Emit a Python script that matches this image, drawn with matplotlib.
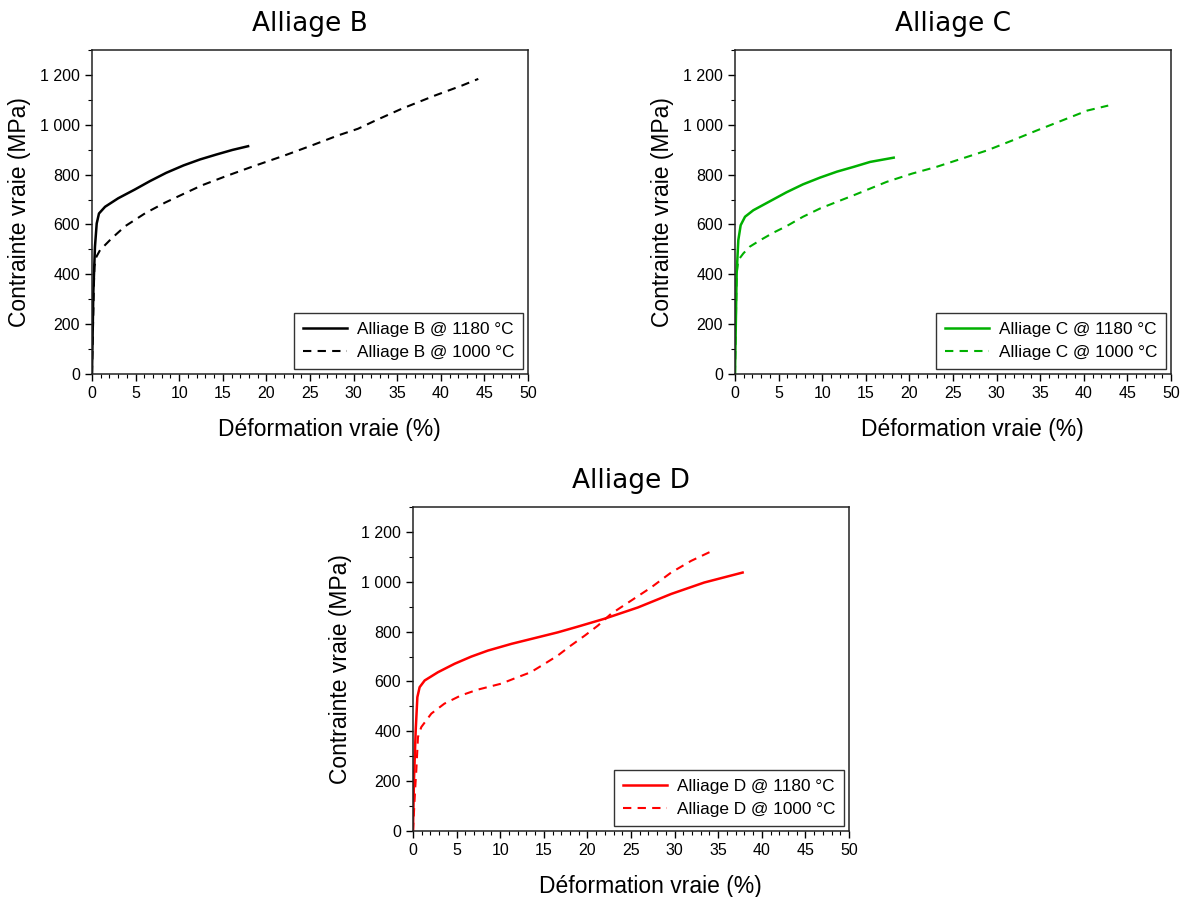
import numpy as np
import matplotlib as mpl
mpl.use("Agg")
import matplotlib.pyplot as plt
from matplotlib.ticker import MultipleLocator, FuncFormatter

# true strain (%) / true stress (MPa)
b_hot_x = [0, 0.15, 0.34, 0.54, 0.8, 1.5, 3.0, 4.9, 6.65, 8.5, 10.5, 12.4, 14.3, 16.1, 17.9]
b_hot_y = [0, 324, 511, 604, 644, 671, 705, 740, 774, 807, 837, 861, 881, 899, 914]
b_cold_x = [0, 0.15, 0.27, 0.5, 0.92, 2.25, 3.8, 6.1, 8.4, 10.7, 12.6, 15.3, 18.3, 22.1,
            25.2, 28.2, 30.5, 32.5, 35.5, 39.3, 42.4, 44.3]
b_cold_y = [0, 250, 431, 470, 497, 544, 593, 645, 688, 726, 757, 793, 831, 877,
            917, 957, 984, 1017, 1064, 1117, 1157, 1184]

c_hot_x = [0, 0.19, 0.38, 0.65, 1.15, 2.1, 4.0, 5.9, 7.8, 9.75, 11.7, 13.6, 15.5, 18.2]
c_hot_y = [0, 404, 537, 597, 631, 657, 693, 729, 761, 788, 812, 831, 851, 868]
c_cold_x = [0, 0.19, 0.38, 0.96, 1.7, 2.9, 4.4, 5.9, 7.8, 9.75, 11.7, 13.6, 15.5, 17.4,
            20.3, 23.1, 26.0, 28.9, 31.8, 34.6, 37.5, 40.4, 42.8]
c_cold_y = [0, 404, 457, 484, 511, 537, 567, 593, 631, 664, 691, 717, 744, 771,
            804, 831, 864, 897, 937, 977, 1017, 1057, 1077]

d_hot_x = [0, 0.11, 0.31, 0.5, 0.76, 1.34, 2.86, 4.77, 6.7, 8.6, 11.3, 14.3, 16.6, 18.9,
           21.9, 25.8, 29.6, 33.4, 37.8]
d_hot_y = [0, 204, 404, 537, 577, 604, 637, 671, 700, 724, 751, 777, 797, 820,
           851, 897, 951, 997, 1037]
d_cold_x = [0, 0.2, 0.3, 0.38, 0.57, 0.95, 2.1, 3.6, 5.5, 7.4, 10.1, 12.0, 13.5, 15.1,
            16.6, 18.1, 19.7, 21.2, 22.7, 25.0, 27.3, 29.6, 31.9, 34.5]
d_cold_y = [0, 137, 200, 244, 377, 417, 471, 511, 544, 567, 591, 617, 637, 671,
            704, 744, 784, 824, 871, 924, 977, 1037, 1084, 1127]

panels = [
    ("Alliage B", "black", b_hot_x, b_hot_y, b_cold_x, b_cold_y),
    ("Alliage C", "#00b000", c_hot_x, c_hot_y, c_cold_x, c_cold_y),
    ("Alliage D", "#ff0000", d_hot_x, d_hot_y, d_cold_x, d_cold_y),
]

W, H = 1185, 897
boxes = [(92, 50), (735, 50), (413, 507)]  # left, top in pixels
AW, AH = 436, 324

fig = plt.figure(figsize=(W / 100, H / 100), dpi=100)
sans = ["Liberation Sans", "DejaVu Sans"]


def fmt(v, pos):
    v = int(round(v))
    return f"{v:,}".replace(",", " ")


for (title, col, hx, hy, cx, cy), (l, t) in zip(panels, boxes):
    ax = fig.add_axes([l / W, 1 - (t + AH) / H, AW / W, AH / H])
    ax.plot(hx, hy, color=col, lw=1.8, label=f"{title} @ 1180 °C")
    ax.plot(cx, cy, color=col, lw=1.5, dashes=(4, 3), label=f"{title} @ 1000 °C")
    ax.set_xlim(0, 50)
    ax.set_ylim(0, 1300)
    ax.xaxis.set_major_locator(MultipleLocator(5))
    ax.xaxis.set_minor_locator(MultipleLocator(1))
    ax.yaxis.set_major_locator(MultipleLocator(200))
    ax.yaxis.set_minor_locator(MultipleLocator(100))
    ax.yaxis.set_major_formatter(FuncFormatter(fmt))
    ax.tick_params(which="major", direction="out", length=5, width=1, labelsize=11.5)
    ax.tick_params(which="minor", direction="out", length=3, width=0.8)
    for lab in ax.get_xticklabels() + ax.get_yticklabels():
        lab.set_family(sans)
    for s in ax.spines.values():
        s.set_linewidth(1.1)
        s.set_color("#222222")
    ax.set_title(title, fontsize=19, family="DejaVu Sans", pad=14)
    ax.set_xlabel("Déformation vraie (%)", fontsize=16.5, family=sans)
    ax.set_ylabel("Contrainte vraie (MPa)", fontsize=16.5, family=sans)
    ax.xaxis.set_label_coords(0.545, -0.135)
    ax.yaxis.set_label_coords(-0.14, 0.5)
    leg = ax.legend(loc="lower right", prop={"family": sans, "size": 12.4},
                    frameon=True, fancybox=False, edgecolor="black", handlelength=2.6,
                    handletextpad=0.55, borderaxespad=0.3, borderpad=0.5)
    leg.get_frame().set_linewidth(1.0)

fig.savefig("out.png", dpi=100)
